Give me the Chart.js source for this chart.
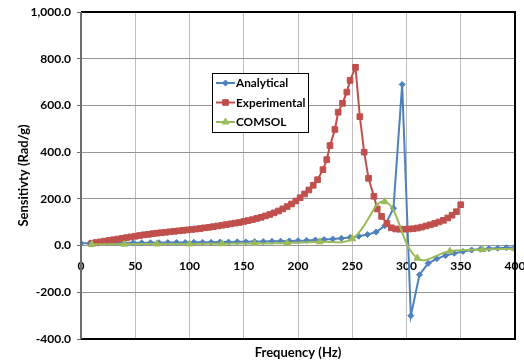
<!DOCTYPE html>
<html><head><meta charset="utf-8">
<script src="https://cdn.jsdelivr.net/npm/chart.js@4.4.0/dist/chart.umd.min.js"></script>
<style>html,body{margin:0;padding:0;background:#fff;}#wrap{width:524px;height:364px;}</style>
</head><body><div id="wrap"><canvas id="c" width="524" height="364"></canvas></div>
<script>
const seriesNames = ['Analytical', 'Experimental', 'COMSOL'];

const analyticalFreq = [0,8,16,24,32,40,48,56,64,72,80,88,96,104,112,120,128,136,144,152,160,168,176,184,192,200,208,216,224,232,240,248,256,264,272,280,288,296,304,312,320,328,336,344,352,360,368,376,384,392,400];
const analyticalVals = [10,10,10,11,11,11,12,12,12,12,13,13,13,14,14,14,15,15,16,16,17,17,18,19,20,21,22,24,26,28,31,35,40,47,58,85,160,690,-300,-125,-76,-56,-43,-33,-25,-19,-16,-13,-11,-9,-8];

const experimentalFreq = [10,14,18,22,26,30,34,38,42,46,50,54,58,62,66,70,74,78,82,86,90,94,98,102,106,110,114,118,122,126,130,134,138,142,146,150,154,158,162,166,170,174,178,182,186,190,194,198,202,206,210,214,218,223,226.5,229.5,234,237,241,245,248,253,257,261,265,270,273,277,282,286,290,294,298,302,306,310,314,318,322,326,330,334,338,342,346,350];
const experimentalVals = [10,13,16,19,22,25,28,31,34,37,40,43,46,48,51,53,55,57,59,61,63,65,67,69,71,73,76,78,81,84,87,90,93,96,99,103,107,111,116,121,127,133,140,148,157,167,178,191,205,221,238,258,282,325,368,428,497,571,609,657,707,763,552,400,288,211,157,125,95,76,71,70,70,71,72,75,79,84,89,95,101,108,118,130,145,175];

const comsolFreq = [10,40,70,100,130,160,190,220,250,280,310,340,370,400];
const comsolVals = [5,6,7,7,8,9,11,16,29,188,-54,-24,-17,-14];

const yTicks = [-400,-200,0,200,400,600,800,1000];
const xTicks = [0,50,100,150,200,250,300,350,400];

const FONT = 'Lato, "Liberation Sans", sans-serif';
const toXY = (xs, ys) => xs.map((x, i) => ({x: x, y: ys[i]}));

const legendPlugin = {
  id: 'boxLegend',
  afterDraw(chart) {
    const ctx = chart.ctx;
    const x0 = 212, y0 = 73, w = 96, h = 59;
    ctx.save();
    ctx.fillStyle = '#ffffff';
    ctx.fillRect(x0, y0, w, h);
    ctx.strokeStyle = '#000000';
    ctx.lineWidth = 1;
    ctx.strokeRect(x0 + 0.5, y0 + 0.5, w, h);
    const rows = [83, 102.5, 122];
    chart.data.datasets.forEach((ds, i) => {
      const y = rows[i];
      ctx.strokeStyle = ds.borderColor;
      ctx.lineWidth = 2;
      ctx.beginPath();
      ctx.moveTo(216, y);
      ctx.lineTo(235, y);
      ctx.stroke();
      ctx.fillStyle = ds.backgroundColor;
      ctx.strokeStyle = ds.borderColor;
      ctx.lineWidth = 1;
      Chart.helpers.drawPoint(ctx, {pointStyle: ds.pointStyle, radius: ds.pointRadius, borderWidth: 1, rotation: 0}, 225.5, y);
      ctx.fillStyle = '#000000';
      ctx.font = 'bold 11.8px ' + FONT;
      ctx.textBaseline = 'middle';
      ctx.textAlign = 'left';
      ctx.fillText(ds.label, 236, y + 0.5);
    });
    ctx.restore();
  }
};

const borderPlugin = {
  id: 'plotBorder',
  afterDatasetsDraw(chart) {
    const a = chart.chartArea, ctx = chart.ctx;
    ctx.save();
    ctx.strokeStyle = '#000000';
    ctx.lineWidth = 2;
    ctx.beginPath();
    ctx.moveTo(a.left, a.top);
    ctx.lineTo(a.right, a.top);
    ctx.lineTo(a.right, a.bottom);
    ctx.lineTo(a.left, a.bottom);
    ctx.stroke();
    ctx.strokeStyle = '#6e6e6e';
    ctx.beginPath();
    ctx.moveTo(a.left, a.top);
    ctx.lineTo(a.left, a.bottom);
    ctx.stroke();
    ctx.restore();
  }
};

new Chart(document.getElementById('c'), {
  type: 'line',
  data: {
    datasets: [
      {label: seriesNames[0], data: toXY(analyticalFreq, analyticalVals), borderColor: '#4F81BD', backgroundColor: '#4F81BD',
       borderWidth: 2, pointStyle: 'rectRot', pointRadius: 3, pointBorderWidth: 1, tension: 0, order: 3},
      {label: seriesNames[1], data: toXY(experimentalFreq, experimentalVals), borderColor: '#C0504D', backgroundColor: '#C0504D',
       borderWidth: 2, pointStyle: 'rect', pointRadius: 4, pointBorderWidth: 1, tension: 0, order: 2},
      {label: seriesNames[2], data: toXY(comsolFreq, comsolVals), borderColor: '#9BBB59', backgroundColor: '#9BBB59',
       borderWidth: 2, pointStyle: 'triangle', pointRadius: 4, pointBorderWidth: 1, tension: 0.4, order: 1}
    ]
  },
  options: {
    responsive: false,
    animation: false,
    layout: {padding: {left: 0, top: 12, right: 9, bottom: 0}},
    plugins: {legend: {display: false}, tooltip: {enabled: false}},
    scales: {
      x: {
        type: 'linear', min: 0, max: 400, position: 'bottom',
        afterBuildTicks: s => { s.ticks = xTicks.map(v => ({value: v})); },
        afterFit: s => { s.height = 25; s.paddingLeft = 0; s.paddingRight = 0; },
        grid: {color: '#bdbdbd', lineWidth: 1, drawTicks: false},
        border: {display: false},
        ticks: {display: false},
        title: {display: true, text: 'Frequency (Hz)', color: '#000', font: {family: FONT, size: 13, weight: 'bold'}, padding: {top: 0, bottom: 3}}
      },
      x2: {
        type: 'linear', min: 0, max: 400, position: {y: 0},
        afterBuildTicks: s => { s.ticks = xTicks.map(v => ({value: v})); },
        afterFit: s => { s.height = 0; s.paddingLeft = 0; s.paddingRight = 0; },
        grid: {display: false, drawTicks: false},
        border: {display: false},
        ticks: {color: '#000', padding: 13, maxRotation: 0, font: {family: FONT, size: 12, weight: 'bold'}, callback: v => String(v)}
      },
      y: {
        type: 'linear', min: -400, max: 1000,
        afterBuildTicks: s => { s.ticks = yTicks.map(v => ({value: v})); },
        afterFit: s => { s.width = 81; s.paddingTop = 0; s.paddingBottom = 0; },
        grid: {color: '#959595', lineWidth: 1, tickLength: 4, tickColor: '#6e6e6e'},
        border: {display: false},
        ticks: {color: '#000', padding: 6, font: {family: FONT, size: 12, weight: 'bold'},
                callback: v => v.toLocaleString('en-US', {minimumFractionDigits: 1, maximumFractionDigits: 1})},
        title: {display: true, text: 'Sensitivty (Rad/g)', color: '#000', font: {family: FONT, size: 13, weight: 'bold'}, padding: {top: 16, bottom: 0}}
      }
    }
  },
  plugins: [borderPlugin, legendPlugin]
});
</script>
</body></html>
